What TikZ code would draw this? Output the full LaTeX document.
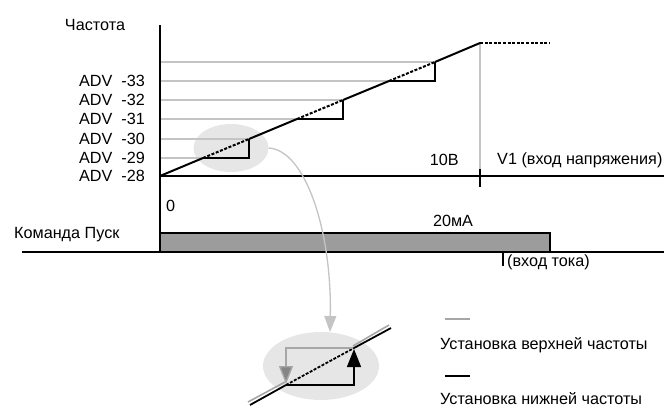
\documentclass[tikz,border=0pt]{standalone}
\usepackage{fontspec}
\setmainfont{Liberation Sans}
\usepackage{xcolor}
\usepackage{tikz}
\usetikzlibrary{positioning, arrows.meta, shapes.geometric}
\definecolor{levelgray}{HTML}{C4C4C4}
\definecolor{bargray}{HTML}{9C9C9C}
\definecolor{zoomgray}{HTML}{E6E6E6}
\definecolor{downgray}{HTML}{858585}
\definecolor{pathgray}{HTML}{A6A6A6}

\tikzset{
  axis/.style={line width=2.6pt},
  level/.style={levelgray, line width=1.2pt},
  ramp/.style={line width=2pt},
  rampdash/.style={line width=2pt, dash pattern=on 3pt off 1.6pt},
  stepline/.style={line width=1.4pt},
  label/.style={font=\fontsize{16.2}{18}\selectfont, inner sep=0pt}
}

\begin{document}
\begin{tikzpicture}[x=1pt, y=-1pt]
  \useasboundingbox (0,0) rectangle (664,408);

  \node[ellipse, fill=zoomgray, minimum width=75pt, minimum height=48pt, inner sep=0pt] (zoomA) at (231,148) {};
  \node[ellipse, fill=zoomgray, minimum width=116pt, minimum height=68pt, inner sep=0pt] (zoomB) at (321,366) {};

  \foreach \y/\x in {158/203, 139/249, 119/297, 100/343, 81/389, 62/435}
    \draw[level] (160,\y) -- (\x,\y);
  \draw[level] (480,43) -- (480,176);

  \foreach \y/\n in {176/28, 158/29, 139/30, 119/31, 100/32, 81/33}
    \node[label, anchor=east] (adv\n) at (145,\y) {ADV\ \ -\n};
  \node[label] (freq) at (95,25) {Частота};

  \draw[axis] (160,25) -- (160,252);
  \draw[axis] (160,176) -- (664,176);
  \draw[line width=1.6pt] (480,169) -- (480,187);

  \draw[ramp] (160,176) -- (203,158);
  \draw[rampdash] (203,158) -- (249,139);
  \draw[ramp] (249,139) -- (297,119);
  \draw[rampdash] (297,119) -- (343,100);
  \draw[ramp] (343,100) -- (389,81);
  \draw[rampdash] (389,81) -- (435,62);
  \draw[ramp] (435,62) -- (480,43);
  \draw[rampdash] (480,43) -- (550,43);

  \draw[stepline] (203,158) -- (249,158) -- (249,139);
  \draw[stepline] (297,119) -- (343,119) -- (343,100);
  \draw[stepline] (389,81) -- (435,81) -- (435,62);

  \node[label, anchor=east] (volt) at (459,160) {10В};
  \node[label, anchor=west] (vin) at (497,160) {V1 (вход напряжения)};

  \node[label, anchor=west] (zero) at (166,206) {0};
  \node[label, anchor=west] (run) at (14,235) {Команда Пуск};
  \node[label] (ma) at (453,221) {20мА};

  \draw[fill=bargray, line width=1.2pt] (160,233) rectangle (550,252);
  \draw[axis] (22,252) -- (664,252);
  \draw[line width=1.4pt] (503,252) -- (503,266);
  \node[label, anchor=west] (iin) at (507,262) {(вход тока)};

  \coordinate (tipB) at (330,332);
  \draw[levelgray, line width=1.3pt, -{Triangle[width=12pt, length=16pt]}]
    (zoomA.east) .. controls (305,150) and (332,230) .. (tipB);

  \draw[pathgray, line width=1.6pt] (248,402) -- (285,382);
  \draw[pathgray, line width=1.6pt] (353,346) -- (389,325);
  \draw[line width=1.8pt] (250,405) -- (286,385);
  \draw[line width=1.8pt, dash pattern=on 3pt off 1.5pt] (286,385) -- (354,348);
  \draw[line width=1.8pt] (354,348) -- (391,328);

  \draw[pathgray, line width=1.4pt, -{Triangle[width=14pt, length=18pt, fill=downgray]}]
    (353,348) -- (286,348) -- (286,384);
  \draw[line width=1.4pt, -{Triangle[width=14pt, length=18pt]}]
    (286,385) -- (354,385) -- (354,349);

  \draw[pathgray, line width=1.4pt] (445,319) -- (470,319);
  \node[label, anchor=west] (upper) at (440,345) {Установка верхней частоты};
  \draw[line width=1.4pt] (445,376) -- (470,376);
  \node[label, anchor=west] (lower) at (440,399) {Установка нижней частоты};
\end{tikzpicture}
\end{document}
